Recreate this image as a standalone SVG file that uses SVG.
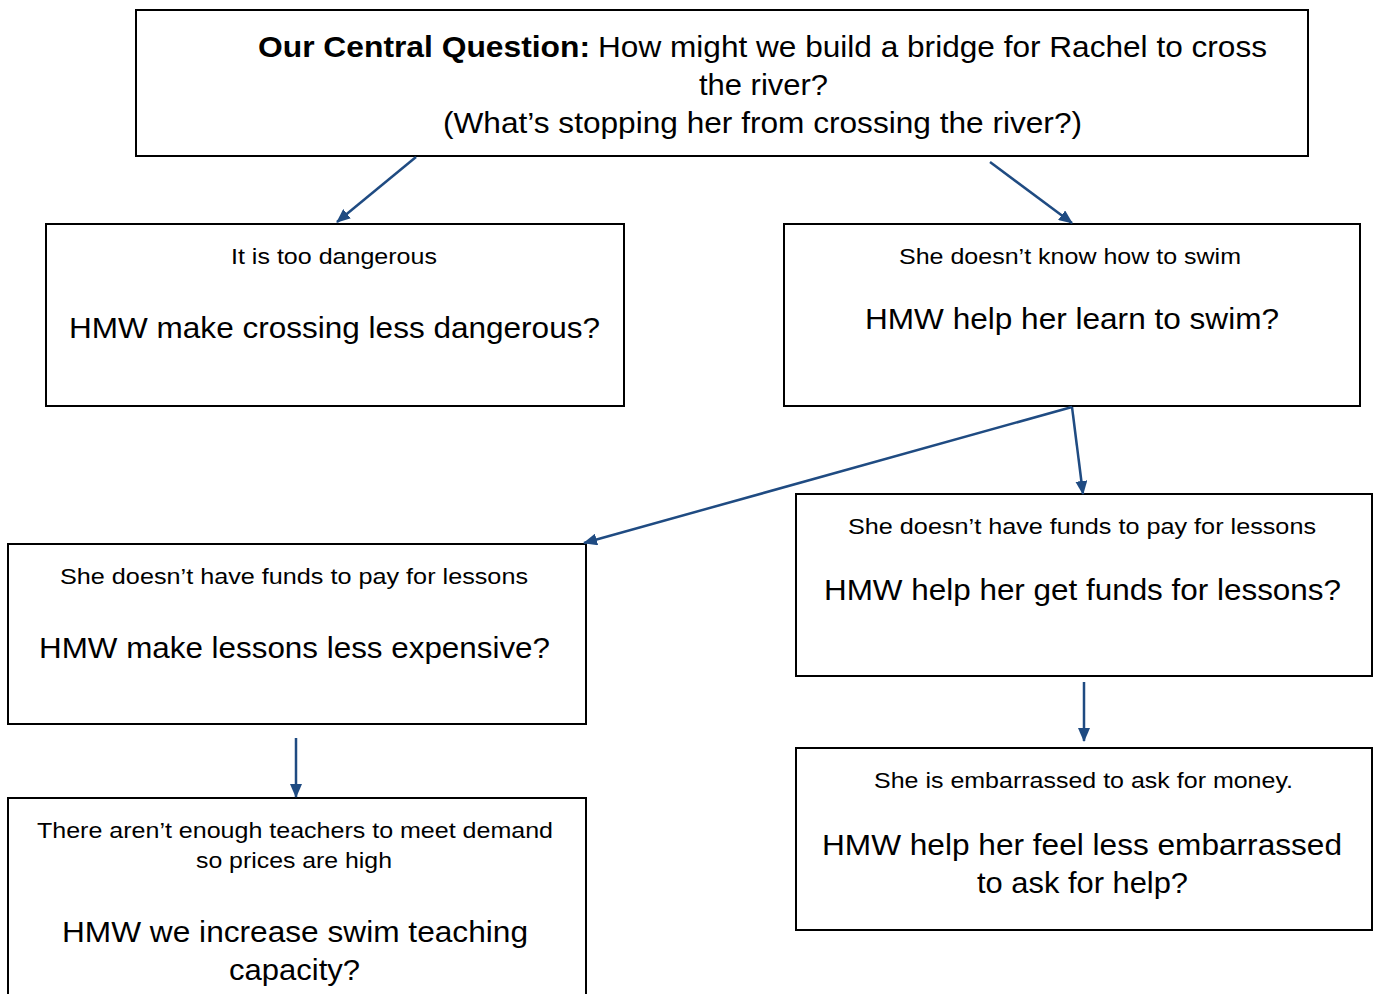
<svg xmlns="http://www.w3.org/2000/svg" width="1374" height="994" viewBox="0 0 1374 994">
<style>
.box{fill:#fff;stroke:#000;stroke-width:2}
.t{font-family:"Liberation Sans",Arial,sans-serif;fill:#000}
.s{font-size:22px}
.l{font-size:30px}
.b{font-weight:bold}
.c{stroke:#1f4b82;stroke-width:2.5;fill:none;marker-end:url(#ah)}
</style>
<defs>
<marker id="ah" markerWidth="10" markerHeight="8" refX="9" refY="4" orient="auto" markerUnits="userSpaceOnUse" viewBox="0 0 10 8">
<path d="M0,0 L10,4 L0,8 Z" fill="#1f4b82"/>
</marker>
<marker id="ahb" viewBox="0 0 14 12" refX="13" refY="6" markerWidth="14" markerHeight="12" orient="auto" markerUnits="userSpaceOnUse">
<path d="M0,0 L14,6 L0,12 Z" fill="#1f4b82"/>
</marker>
</defs>
<rect width="1374" height="994" fill="#fff"/>
<g id="top">
<rect class="box" x="136" y="10" width="1172" height="146"/>
<text class="t l b" x="258" y="57" textLength="332" lengthAdjust="spacingAndGlyphs">Our Central Question:</text>
<text class="t l" x="598" y="57" textLength="669" lengthAdjust="spacingAndGlyphs">How might we build a bridge for Rachel to cross</text>
<text class="t l" x="699" y="95" textLength="129" lengthAdjust="spacingAndGlyphs">the river?</text>
<text class="t l" x="443" y="133" textLength="639" lengthAdjust="spacingAndGlyphs">(What’s stopping her from crossing the river?)</text>
</g>
<g id="nodeA">
<rect class="box" x="46" y="224" width="578" height="182"/>
<text class="t s" x="231" y="264" textLength="206" lengthAdjust="spacingAndGlyphs">It is too dangerous</text>
<text class="t l" x="69" y="338" textLength="531" lengthAdjust="spacingAndGlyphs">HMW make crossing less dangerous?</text>
</g>
<g id="nodeB">
<rect class="box" x="784" y="224" width="576" height="182"/>
<text class="t s" x="899" y="264" textLength="342" lengthAdjust="spacingAndGlyphs">She doesn’t know how to swim</text>
<text class="t l" x="865" y="329" textLength="414" lengthAdjust="spacingAndGlyphs">HMW help her learn to swim?</text>
</g>
<g id="nodeC">
<rect class="box" x="8" y="544" width="578" height="180"/>
<text class="t s" x="60" y="584" textLength="468" lengthAdjust="spacingAndGlyphs">She doesn’t have funds to pay for lessons</text>
<text class="t l" x="39" y="658" textLength="511" lengthAdjust="spacingAndGlyphs">HMW make lessons less expensive?</text>
</g>
<g id="nodeD">
<rect class="box" x="796" y="494" width="576" height="182"/>
<text class="t s" x="848" y="534" textLength="468" lengthAdjust="spacingAndGlyphs">She doesn’t have funds to pay for lessons</text>
<text class="t l" x="824" y="600" textLength="517" lengthAdjust="spacingAndGlyphs">HMW help her get funds for lessons?</text>
</g>
<g id="nodeE">
<rect class="box" x="8" y="798" width="578" height="210"/>
<text class="t s" x="37" y="838" textLength="516" lengthAdjust="spacingAndGlyphs">There aren’t enough teachers to meet demand</text>
<text class="t s" x="196" y="868" textLength="196" lengthAdjust="spacingAndGlyphs">so prices are high</text>
<text class="t l" x="62" y="942" textLength="466" lengthAdjust="spacingAndGlyphs">HMW we increase swim teaching</text>
<text class="t l" x="229" y="980" textLength="131" lengthAdjust="spacingAndGlyphs">capacity?</text>
</g>
<g id="nodeF">
<rect class="box" x="796" y="748" width="576" height="182"/>
<text class="t s" x="874" y="788" textLength="419" lengthAdjust="spacingAndGlyphs">She is embarrassed to ask for money.</text>
<text class="t l" x="822" y="855" textLength="520" lengthAdjust="spacingAndGlyphs">HMW help her feel less embarrassed</text>
<text class="t l" x="977" y="893" textLength="211" lengthAdjust="spacingAndGlyphs">to ask for help?</text>
</g>
<g id="connectors">
<line class="c" style="marker-end:url(#ahb)" x1="416" y1="157" x2="337" y2="222"/>
<line class="c" style="marker-end:url(#ahb)" x1="990" y1="162" x2="1072" y2="223"/>
<line class="c" style="marker-end:url(#ahb)" x1="1072" y1="407" x2="1083" y2="494"/>
<line class="c" style="marker-end:url(#ahb)" x1="1072" y1="407" x2="584" y2="543"/>
<line class="c" style="marker-end:url(#ahb)" x1="296" y1="738" x2="296" y2="797"/>
<line class="c" style="marker-end:url(#ahb)" x1="1084" y1="682" x2="1084" y2="741"/>
</g>
</svg>
